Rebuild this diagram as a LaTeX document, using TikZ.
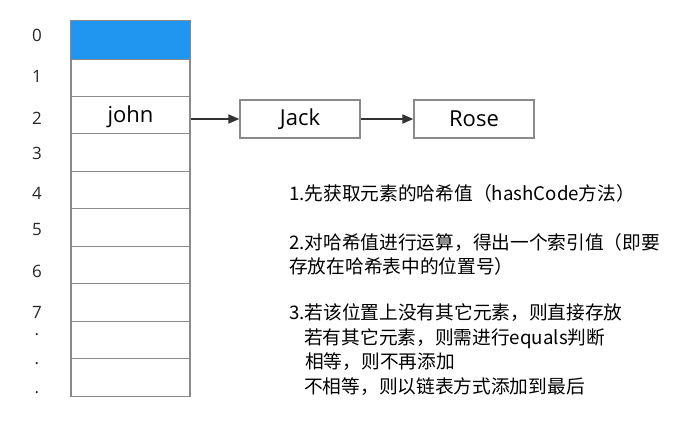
\documentclass[tikz,border=0pt]{standalone}
\usepackage{fontspec}
\setmainfont{Open Sans}
\newfontfamily\cjk{Noto Sans CJK SC}
\usepackage{xcolor}
\usetikzlibrary{arrows.meta}
\definecolor{cellblue}{HTML}{2196F0}
\definecolor{cellgray}{HTML}{8A8A8A}
\definecolor{arrowgray}{HTML}{333333}

\begin{document}
\begin{tikzpicture}[x=1pt,y=-1pt,
    cell/.style={draw=cellgray, line width=1.3pt, minimum width=119pt, minimum height=37.6pt, inner sep=0pt, font=\fontsize{22}{22}\selectfont},
    entry/.style={cell, minimum width=120pt, minimum height=38pt},
    idx/.style={font=\fontsize{17}{17}\selectfont, text=black!85, inner sep=1pt},
    dot/.style={idx, inner sep=0pt, text height=2pt, text depth=0pt},
    link/.style={-{Triangle[length=11pt,width=9pt]}, line width=2pt, arrowgray}]
        \useasboundingbox (0,0) rectangle (695,432);

        %TABEL
        \foreach \i in {0,...,9}
            \node[cell] (c\i) at (130.5, 40+37.5*\i) {};
        \fill[cellblue] (c0.south west) rectangle (c0.north east);
        \draw[cellgray, line width=1.3pt] (c0.south west) rectangle (c0.north east);
        \node[font=\fontsize{22}{22}\selectfont] (john) at (130.5,117) {john};

        %INDEKS
        \foreach \k/\y in {0/35, 1/76, 2/118, 3/153, 4/193, 5/230, 6/271, 7/312}
            \node[idx] (i\k) at (37,\y) {\k};
        \foreach \k/\y in {a/334, b/363, c/392}
            \node[dot] (d\k) at (37,\y) {.};

        %LINKED LIST
        \node[entry] (jack) at (300,119) {Jack};
        \node[entry] (rose) at (474,119) {Rose};
        \draw[link] (c2.east |- jack) -- (jack.west);
        \draw[link] (jack.east) -- (rose.west);

        %KETERANGAN
        \node[anchor=north west, align=left, inner sep=0pt, font=\cjk\fontsize{18.7}{24.4}\selectfont] (note) at (289,184) {%
            1.先获取元素的哈希值（hashCode方法）\\[24.4pt]
            2.对哈希值进行运算，得出一个索引值（即要\\
            存放在哈希表中的位置号）\\[22pt]
            3.若该位置上没有其它元素，则直接存放\\
            \hspace*{15pt}若有其它元素，则需进行equals判断\\
            \hspace*{16pt}相等，则不再添加\\
            \hspace*{15pt}不相等，则以链表方式添加到最后};
    \end{tikzpicture}
\end{document}
